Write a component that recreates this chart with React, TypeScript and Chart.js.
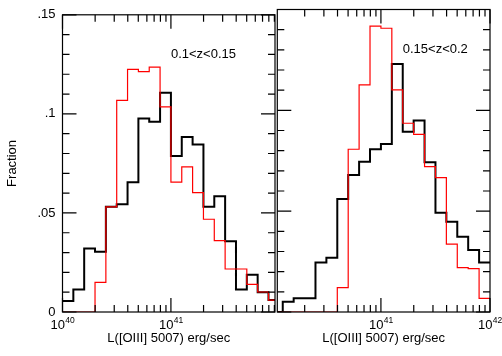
import React, { useEffect, useRef } from 'react';
import { Chart, registerables } from 'chart.js';

Chart.register(...registerables);

// ---- data (x in log10 L[OIII] erg/s, bin left edges; last entry closes the last bin) ----
const leftEdges = [40.0, 40.1, 40.2, 40.3, 40.4, 40.5, 40.6, 40.7, 40.8, 40.9, 41.0, 41.1, 41.2, 41.3, 41.4, 41.5, 41.6, 41.7, 41.8, 41.9, 42.0];
const leftBlack = [0.0056, 0.0114, 0.0321, 0.0304, 0.0531, 0.0544, 0.0655, 0.0977, 0.096, 0.1106, 0.0787, 0.0883, 0.0845, 0.0531, 0.0584, 0.0357, 0.0114, 0.0188, 0.01, 0.006];
const leftRed = [0, 0, 0, 0.015, 0.0531, 0.1068, 0.1225, 0.1213, 0.1236, 0.1035, 0.0655, 0.0732, 0.0602, 0.0468, 0.036, 0.0217, 0.0217, 0.0139, 0.0101, 0.006];

const rightEdges = [40.0, 40.1, 40.2, 40.3, 40.4, 40.5, 40.6, 40.7, 40.8, 40.9, 41.0, 41.1, 41.2, 41.3, 41.4, 41.5, 41.6, 41.7, 41.8, 41.9, 42.0];
const rightBlack = [0, 0.0051, 0.0068, 0.0068, 0.0245, 0.0269, 0.056, 0.0679, 0.0745, 0.0807, 0.0833, 0.123, 0.0894, 0.0949, 0.0742, 0.0492, 0.0448, 0.0373, 0.0307, 0.0246];
const rightRed = [0, 0, 0, 0, 0, 0, 0.0121, 0.0807, 0.1126, 0.1418, 0.1407, 0.1101, 0.0936, 0.0881, 0.0721, 0.0666, 0.0337, 0.022, 0.0215, 0.0068];

const leftRange = [40.0, 41.96];
const rightRange = [40.05, 42.0];
const leftXTicks = [40, 41];
const rightXTicks = [41, 42];
const yTickValues = [0, 0.05, 0.1, 0.15];
const yTickLabels = ['0', '.05', '.1', '.15'];
const leftLabel = { text: '0.1<z<0.15', x: 41.0, y: 0.13 };
const rightLabel = { text: '0.15<z<0.2', x: 41.2, y: 0.13 };
const xTitle = 'L([OIII] 5007) erg/sec';
const yTitle = 'Fraction';

const FONT = "'Liberation Sans', Arial, Helvetica, sans-serif";

function stepPoints(edges: number[], vals: number[]) {
  return edges.map((e, i) => ({ x: e, y: vals[Math.min(i, vals.length - 1)] }));
}

const framePlugin = {
  id: 'frame',
  afterDatasetsDraw(chart: any, _args: any, opts: any) {
    const { ctx, chartArea: a } = chart;
    const x = chart.scales.x;
    const y = chart.scales.y;
    ctx.save();
    ctx.strokeStyle = '#000';
    ctx.lineWidth = 1.2;
    ctx.strokeRect(a.left, a.top, a.right - a.left, a.bottom - a.top);
    ctx.beginPath();
    // y ticks, inward on both sides
    for (let k = 0; k <= 15; k++) {
      const py = y.getPixelForValue(k / 100);
      const len = k % 5 === 0 ? 14 : 7;
      ctx.moveTo(a.left, py);
      ctx.lineTo(a.left + len, py);
      ctx.moveTo(a.right, py);
      ctx.lineTo(a.right - len, py);
    }
    // x ticks (log decades), inward top and bottom
    for (let d = 40; d <= 42; d++) {
      for (let m = 1; m <= 9; m++) {
        const v = d + Math.log10(m);
        if (v < x.min - 1e-6 || v > x.max + 1e-6) continue;
        const px = x.getPixelForValue(v);
        const len = m === 1 ? 14 : 7;
        ctx.moveTo(px, a.bottom);
        ctx.lineTo(px, a.bottom - len);
        ctx.moveTo(px, a.top);
        ctx.lineTo(px, a.top + len);
      }
    }
    ctx.stroke();

    // x tick labels: "10" with raised exponent, centred on the tick
    ctx.fillStyle = '#000';
    ctx.textBaseline = 'alphabetic';
    ctx.textAlign = 'left';
    for (const t of x.ticks) {
      const px = x.getPixelForValue(t.value);
      const base = '10';
      const exp = String(Math.round(t.value));
      ctx.font = `13px ${FONT}`;
      const wb = ctx.measureText(base).width;
      ctx.font = `8.5px ${FONT}`;
      const we = ctx.measureText(exp).width;
      const x0 = px - (wb + we) / 2;
      ctx.font = `13px ${FONT}`;
      ctx.fillText(base, x0, a.bottom + 16.5);
      ctx.font = `8.5px ${FONT}`;
      ctx.fillText(exp, x0 + wb + 0.3, a.bottom + 11);
    }

    if (opts && opts.label) {
      ctx.font = `13px ${FONT}`;
      ctx.textAlign = 'left';
      ctx.textBaseline = 'middle';
      ctx.fillText(opts.label.text, x.getPixelForValue(opts.label.x), y.getPixelForValue(opts.label.y));
    }
    ctx.restore();
  },
};

function makeConfig(p: {
  edges: number[];
  black: number[];
  red: number[];
  range: number[];
  xTicks: number[];
  label: any;
  showY: boolean;
  yWidth: number;
  padRight: number;
}): any {
  return {
    type: 'line',
    data: {
      datasets: [
        {
          data: stepPoints(p.edges, p.red),
          borderColor: '#ff0000',
          borderWidth: 1.2,
          stepped: 'before',
          pointRadius: 0,
          fill: false,
        },
        {
          data: stepPoints(p.edges, p.black),
          borderColor: '#000000',
          borderWidth: 2,
          stepped: 'before',
          pointRadius: 0,
          fill: false,
        },
      ],
    },
    options: {
      responsive: false,
      animation: false,
      devicePixelRatio: 1,
      layout: { padding: { top: 9.5, right: p.padRight, bottom: 0, left: 0 } },
      plugins: {
        legend: { display: false },
        tooltip: { enabled: false },
        frame: { label: p.label },
      },
      scales: {
        x: {
          type: 'linear',
          min: p.range[0],
          max: p.range[1],
          grid: { display: false, drawTicks: false },
          border: { display: false },
          afterBuildTicks: (s: any) => {
            s.ticks = p.xTicks.map((v) => ({ value: v }));
          },
          afterFit: (s: any) => {
            s.height = 44;
          },
          ticks: {
            display: false,
          },
          title: {
            display: true,
            text: xTitle,
            color: '#000',
            font: { size: 13, family: FONT },
            padding: { top: 0, bottom: 10 },
          },
        },
        y: {
          type: 'linear',
          min: 0,
          max: 0.15,
          grid: { display: false, drawTicks: false },
          border: { display: false },
          afterBuildTicks: (s: any) => {
            s.ticks = yTickValues.map((v) => ({ value: v }));
          },
          afterFit: (s: any) => {
            s.width = p.yWidth;
          },
          ticks: {
            display: p.showY,
            color: '#000',
            font: { size: 13, family: FONT },
            padding: 7,
            callback: (v: number) => {
              const i = yTickValues.findIndex((t) => Math.abs(t - v) < 1e-9);
              return i >= 0 ? yTickLabels[i] : '';
            },
          },
          title: {
            display: p.showY,
            text: yTitle,
            color: '#000',
            font: { size: 13, family: FONT },
            padding: { top: 5, bottom: 0 },
          },
        },
      },
    },
    plugins: [framePlugin],
  };
}

export default function App() {
  const leftRef = useRef<HTMLCanvasElement>(null);
  const rightRef = useRef<HTMLCanvasElement>(null);

  useEffect(() => {
    const c1 = new Chart(
      leftRef.current!,
      makeConfig({
        edges: leftEdges,
        black: leftBlack,
        red: leftRed,
        range: leftRange,
        xTicks: leftXTicks,
        label: leftLabel,
        showY: true,
        yWidth: 62.5,
        padRight: 2,
      })
    );
    const c2 = new Chart(
      rightRef.current!,
      makeConfig({
        edges: rightEdges,
        black: rightBlack,
        red: rightRed,
        range: rightRange,
        xTicks: rightXTicks,
        label: rightLabel,
        showY: false,
        yWidth: 7.3,
        padRight: 12,
      })
    );
    return () => {
      c1.destroy();
      c2.destroy();
    };
  }, []);

  return (
    <div style={{ position: 'absolute', left: 0, top: 0, width: 502, height: 356, background: '#fff' }}>
      <canvas ref={leftRef} width={277} height={356} style={{ position: 'absolute', left: 0, top: 0 }} />
      <canvas ref={rightRef} width={232} height={356} style={{ position: 'absolute', left: 270, top: 0 }} />
    </div>
  );
}
